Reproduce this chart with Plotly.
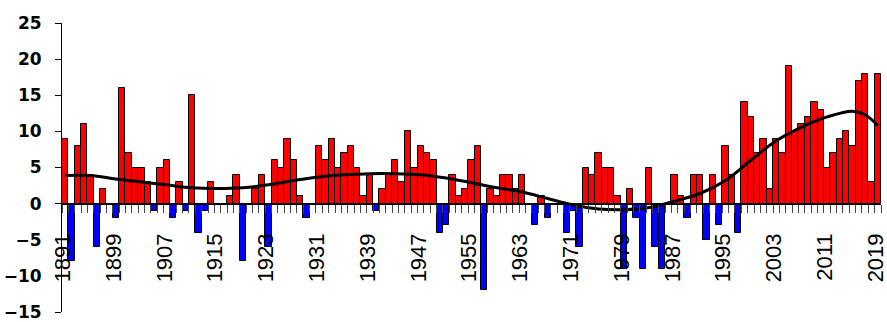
import plotly.graph_objects as go

years = list(range(1891, 2020))
values = [
    9, -8, 8, 11, 4, -6, 2, 0, -2,            # 1891-1899
    16, 7, 5, 5, 3, -1, 5, 6, -2, 3,          # 1900-1909
    -1, 15, -4, -1, 3, 0, 0, 1, 4, -8,        # 1910-1919
    0, 2, 4, -6, 6, 5, 9, 6, 1, -2,           # 1920-1929
    0, 8, 6, 9, 5, 7, 8, 5, 1, 4,             # 1930-1939
    -1, 2, 4, 6, 3, 10, 5, 8, 7, 6,           # 1940-1949
    -4, -3, 4, 1, 2, 6, 8, -12, 2, 1,         # 1950-1959
    4, 4, 2, 4, 0, -3, 1, -2, 0, 0,           # 1960-1969
    -4, -1, -6, 5, 4, 7, 5, 5, 1, -9,         # 1970-1979
    2, -2, -9, 5, -6, -9, 0, 4, 1, -2,        # 1980-1989
    4, 4, -5, 4, -3, 8, 4, -4, 14, 12,        # 1990-1999
    7, 9, 2, 9, 7, 19, 10, 11, 12, 14,        # 2000-2009
    13, 5, 7, 9, 10, 8, 17, 18, 3, 18,        # 2010-2019
]

trend_years = [1891, 1895, 1899, 1903, 1907, 1911, 1915, 1919, 1923, 1927,
               1931, 1935, 1939, 1943, 1947, 1951, 1955, 1959, 1963, 1967,
               1971, 1975, 1979, 1983, 1987, 1991, 1995, 1999, 2003, 2007,
               2011, 2015, 2017, 2019]
trend_values = [3.9, 3.9, 3.4, 3.0, 2.6, 2.2, 2.1, 2.2, 2.6, 3.2,
                3.7, 4.0, 4.15, 4.15, 4.0, 3.55, 2.9, 2.2, 1.6, 0.7,
                -0.2, -0.75, -0.85, -0.55, 0.35, 1.4, 3.2, 6.0, 8.7, 10.6,
                12.0, 12.8, 12.3, 10.8]

label_years = [1891, 1899, 1907, 1915, 1923, 1931, 1939, 1947, 1955, 1963,
               1971, 1979, 1987, 1995, 2003, 2011, 2019]
label_text = [str(y) for y in label_years]
y_ticks = [-15, -10, -5, 0, 5, 10, 15, 20, 25]

LABEL_SHIFT = 0.35  # small leftward nudge of rotated labels, as in the original
label_pos = [y - LABEL_SHIFT for y in label_years]

colors = ["#FF0000" if v >= 0 else "#0000FF" for v in values]

fig = go.Figure()
fig.add_trace(go.Bar(
    x=years, y=values,
    marker=dict(color=colors, line=dict(color="black", width=1)),
    width=1.0,
    showlegend=False,
))
fig.add_trace(go.Scatter(
    x=trend_years, y=trend_values, mode="lines",
    line=dict(color="black", width=3, shape="spline", smoothing=1.0),
    showlegend=False,
))

fig.update_layout(
    width=887, height=322,
    margin=dict(l=62, r=6, t=23, b=10, autoexpand=False),
    paper_bgcolor="white", plot_bgcolor="white",
    bargap=0,
    xaxis=dict(
        range=[1890.5, 2019.5],
        anchor="free", position=0.375,
        automargin=False,
        showline=True, linecolor="black", linewidth=1,
        showgrid=False, zeroline=False,
        tickmode="array", tickvals=label_pos, ticktext=label_text,
        tickangle=-90, ticks="",
        tickfont=dict(family="Liberation Sans, Arial", size=22, color="black"),
        ticklabelstandoff=20,
        ticklabeloverflow="allow",
        minor=dict(tickmode="linear", tick0=1890.5, dtick=1, ticks="outside",
                   ticklen=8, tickcolor="#444", tickwidth=1, showgrid=False),
        layer="above traces",
    ),
    yaxis=dict(
        range=[-15, 25], domain=[0, 1],
        automargin=False,
        showline=True, linecolor="black", linewidth=1,
        showgrid=False, zeroline=False,
        tickmode="array", tickvals=y_ticks,
        ticks="outside", ticklen=6, tickcolor="black",
        tickfont=dict(family="DejaVu Sans", size=17, color="black", weight="bold"),
        ticklabelstandoff=10,
    ),
)

fig.write_html("out.html")
